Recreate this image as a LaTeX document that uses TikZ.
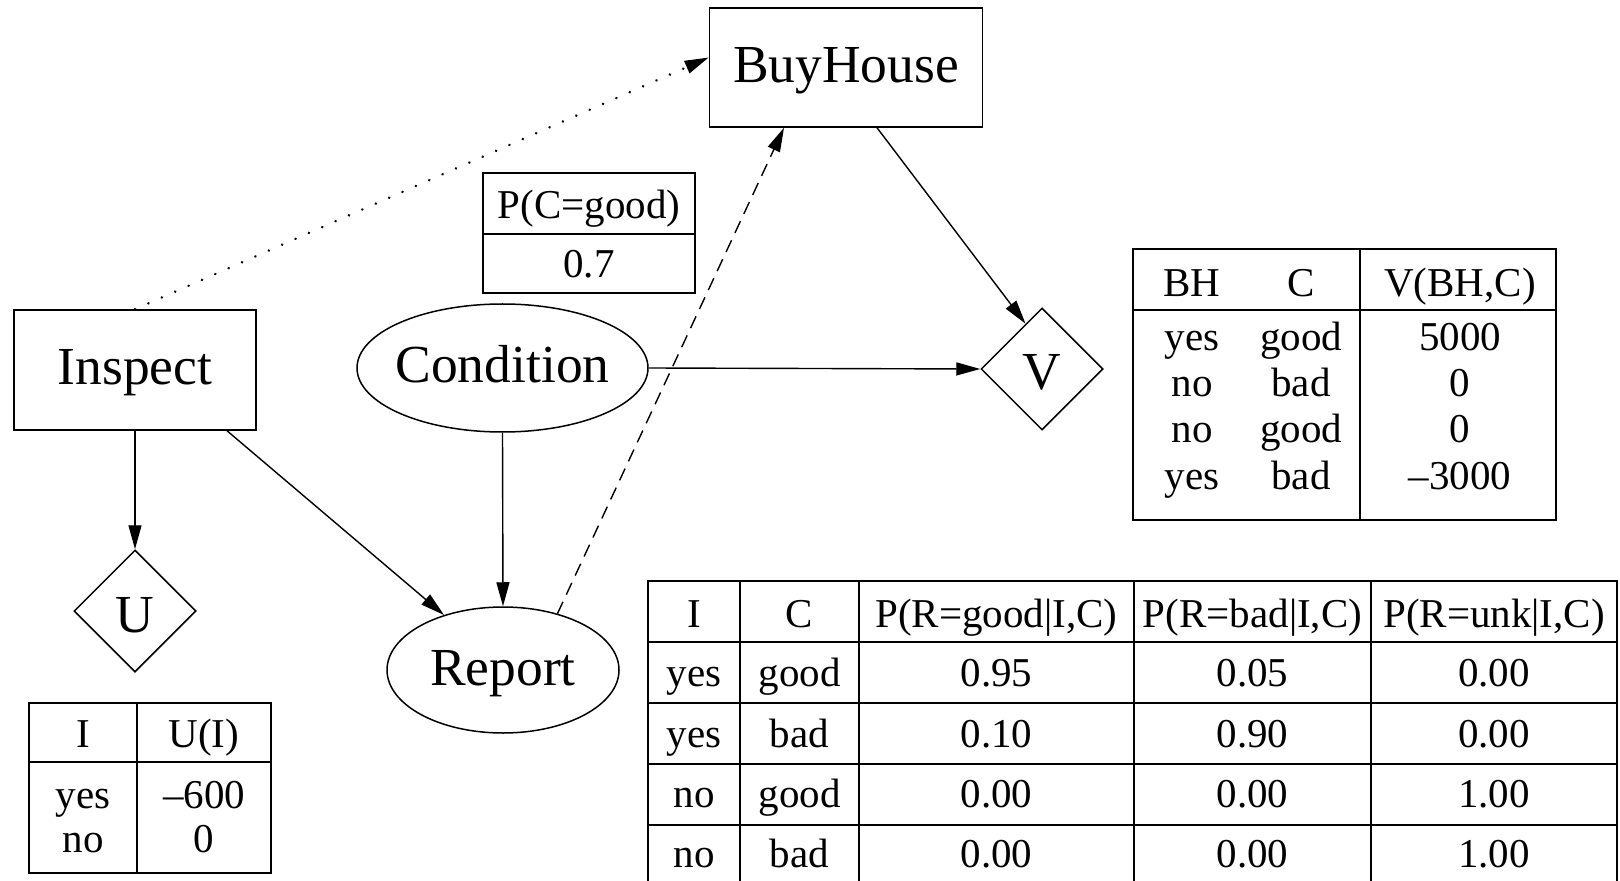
\documentclass[tikz,border=0pt]{standalone}
\usepackage{fontspec}
\setmainfont{Liberation Serif}
\usetikzlibrary{arrows.meta,shapes.geometric,calc}

\newcommand\nodefnt{\fontsize{26.75pt}{32pt}\selectfont}
\newcommand\cellfnt{\fontsize{20.5pt}{24pt}\selectfont}

\tikzset{
  nodebox/.style={draw, line width=0.75pt, inner sep=0pt, font=\nodefnt,
                  text height=15pt, text depth=0pt},
  decision/.style={nodebox, rectangle},
  chance/.style={nodebox, ellipse},
  utility/.style={nodebox, diamond, minimum width=61pt, minimum height=61pt,
                  text height=21pt},
  edge/.style={line width=0.7pt, -{Triangle[length=12pt,width=6.5pt]}},
  dotline/.style={line width=1.3pt, line cap=round, dash pattern=on 0.1pt off 7.2pt},
  dashline/.style={dash pattern=on 6.5pt off 4pt},
  tablerule/.style={line width=0.7pt},
  cell/.style={font=\cellfnt, anchor=base, inner sep=0pt}
}

\begin{document}
\begin{tikzpicture}[x=0.5pt,y=-0.5pt]
\fill[white] (0,0) rectangle (1620,881);
\path[use as bounding box] (0,0) rectangle (1620,881);
\clip (0,0) rectangle (1620,881);

% decision nodes
\node[decision, minimum width=136.5pt, minimum height=59.5pt] (bh) at (846,67.5) {BuyHouse};
\node[decision, minimum width=121pt, minimum height=60pt] (insp) at (135,370) {Inspect};

% chance nodes
\node[chance, minimum width=145.5pt, minimum height=64pt] (cond) at (502.5,368) {\makebox[0pt]{Condition}};
\node[chance, minimum width=116pt, minimum height=63pt] (rep) at (503,670) {\makebox[0pt]{Report}};

% utility nodes
\node[utility] (v) at (1042,369) {\makebox[0pt]{V}};
\node[utility] (u) at (135,611) {\makebox[0pt]{U}};

% links
\draw[edge, dotline] (insp.north) -- ($(bh.west)+(0,-10)$);
\draw[edge, dashline] (rep.46) -- ($(bh.south)+(-62,0)$);
\draw[edge] ($(bh.south)+(31,0)$) -- (v.110);
\draw[edge] (cond.east) -- (v.west);
\draw[edge] (cond.south) -- (rep.north);
\draw[edge] ($(insp.south)+(92,0)$) -- (rep.137);
\draw[edge] (insp.south) -- (u.north);

% prior of Condition
\draw[tablerule] (483,173) rectangle (695,293);
\draw[tablerule] (483,234) -- (695,234);
\node[cell] (pc-h) at (589,219) {P(C=good)};
\node[cell] (pc-v) at (589,278) {0.7};

% utility table of V
\draw[tablerule] (1133,249) rectangle (1556,520);
\draw[tablerule] (1133,310) -- (1556,310);
\draw[tablerule] (1360,249) -- (1360,520);
\node[cell] (vt-bh) at (1192,297) {BH};
\node[cell] (vt-c) at (1301,297) {C};
\node[cell] (vt-v) at (1460,297) {V(BH,C)};
\foreach \b/\c/\val [count=\i] in {yes/good/5000, no/bad/0, no/good/0, yes/bad/–3000} {
  \pgfmathsetmacro\yy{351+46*(\i-1)}
  \node[cell] (vt-b\i) at (1192,\yy) {\b};
  \node[cell] (vt-c\i) at (1301,\yy) {\c};
  \node[cell] (vt-v\i) at (1460,\yy) {\val};
}

% utility table of U
\draw[tablerule] (29,703) rectangle (271,873);
\draw[tablerule] (29,762) -- (271,762);
\draw[tablerule] (137,703) -- (137,873);
\node[cell] (ut-i) at (83,747) {I};
\node[cell] (ut-u) at (204,747) {U(I)};
\node[cell] (ut-i1) at (83,808) {yes};
\node[cell] (ut-u1) at (204,808) {–600};
\node[cell] (ut-i2) at (83,852) {no};
\node[cell] (ut-u2) at (204,852) {0};

% conditional table of Report
\draw[tablerule] (648,581) rectangle (1617,895);
\foreach \yy in {642,703,764,825} \draw[tablerule] (648,\yy) -- (1617,\yy);
\foreach \xx in {740,859,1134,1371} \draw[tablerule] (\xx,581) -- (\xx,895);
\node[cell] (rt-i) at (694,627) {I};
\node[cell] (rt-c) at (799.5,627) {C};
\node[cell] (rt-g) at (996.5,627) {P(R=good\textbar I,C)};
\node[cell] (rt-b) at (1252.5,627) {P(R=bad\textbar I,C)};
\node[cell] (rt-u) at (1494,627) {P(R=unk\textbar I,C)};
\foreach \a/\c/\pg/\pb/\pu/\yy [count=\i] in {
    yes/good/0.95/0.05/0.00/686,
    yes/bad/0.10/0.90/0.00/747,
    no/good/0.00/0.00/1.00/807,
    no/bad/0.00/0.00/1.00/867} {
  \node[cell] (rt-i\i) at (694,\yy) {\a};
  \node[cell] (rt-c\i) at (799.5,\yy) {\c};
  \node[cell] (rt-g\i) at (996.5,\yy) {\pg};
  \node[cell] (rt-b\i) at (1252.5,\yy) {\pb};
  \node[cell] (rt-u\i) at (1494,\yy) {\pu};
}
\end{tikzpicture}
\end{document}
